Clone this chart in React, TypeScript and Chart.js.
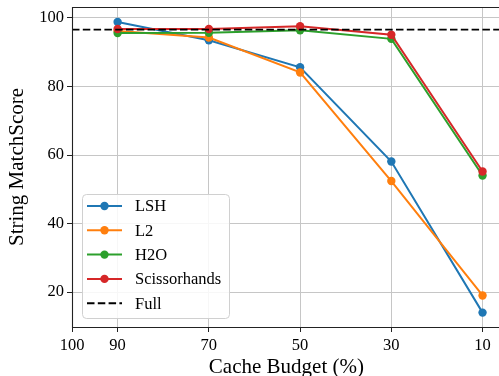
import React, { useEffect, useRef } from 'react';
import { Chart, registerables } from 'chart.js';

Chart.register(...registerables);

// Cache budget (%) per measurement, plotted right-to-left
const BUDGETS = [90, 70, 50, 30, 10];

// String match score per method
const LSH = [98.8, 93.5, 85.6, 58.1, 14.0];
const L2 = [96.2, 94.3, 84.1, 52.4, 19.0];
const H2O = [95.6, 95.7, 96.4, 93.9, 54.0];
const SCISSORHANDS = [96.8, 96.8, 97.6, 95.1, 55.2];
const FULL_SCORE = 96.6;

const SERIES_NAMES = ['LSH', 'L2', 'H2O', 'Scissorhands'];
const SERIES_VALUES = [LSH, L2, H2O, SCISSORHANDS];
const SERIES_COLORS = ['#1f77b4', '#ff7f0e', '#2ca02c', '#d62728'];

const X_TICKS = [100, 90, 70, 50, 30, 10];
const Y_TICKS = [20, 40, 60, 80, 100];
const X_LIMITS = [6, 100];
const Y_LIMITS = [9.8, 103.2];

const FONT = '"Liberation Serif", "Times New Roman", serif';
const GRID = '#c6c6c6';
const INK = '#000000';

// Axes spines (top, left, bottom), drawn above the lines
const framePlugin = {
  id: 'axesFrame',
  afterDatasetsDraw(chart: any) {
    const { ctx, chartArea: a } = chart;
    const l = Math.round(a.left) + 0.5;
    const t = Math.round(a.top) + 0.5;
    const b = Math.round(a.bottom) + 0.5;
    ctx.save();
    ctx.strokeStyle = '#222222';
    ctx.lineWidth = 1.1;
    ctx.beginPath();
    ctx.moveTo(a.right + 2, t);
    ctx.lineTo(l, t);
    ctx.lineTo(l, b);
    ctx.lineTo(a.right + 2, b);
    ctx.stroke();
    ctx.restore();
  },
};

// Boxed legend in the lower-left corner of the plot
const legendPlugin = {
  id: 'boxLegend',
  afterDraw(chart: any) {
    const { ctx, chartArea: a } = chart;
    const datasets = chart.data.datasets;
    const x0 = a.left + 10;
    const w = 147;
    const h = 124;
    const y0 = a.bottom - 9 - h;
    const rowH = 24.3;
    ctx.save();
    ctx.beginPath();
    ctx.roundRect(x0 + 0.5, y0 + 0.5, w, h, 4);
    ctx.fillStyle = 'rgba(255,255,255,0.85)';
    ctx.fill();
    ctx.strokeStyle = '#d0d0d0';
    ctx.lineWidth = 1;
    ctx.stroke();
    datasets.forEach((ds: any, i: number) => {
      const cy = y0 + 12 + i * rowH;
      const lx0 = x0 + 5;
      const lx1 = x0 + 40;
      ctx.beginPath();
      ctx.strokeStyle = ds.borderColor;
      ctx.lineWidth = 2;
      ctx.setLineDash(ds.borderDash || []);
      ctx.moveTo(lx0, cy);
      ctx.lineTo(lx1, cy);
      ctx.stroke();
      ctx.setLineDash([]);
      if (ds.pointRadius > 0) {
        ctx.beginPath();
        ctx.fillStyle = ds.borderColor;
        ctx.arc((lx0 + lx1) / 2, cy, 4.2, 0, Math.PI * 2);
        ctx.fill();
      }
      ctx.fillStyle = INK;
      ctx.font = `16.5px ${FONT}`;
      ctx.textBaseline = 'middle';
      ctx.textAlign = 'left';
      ctx.fillText(ds.label, x0 + 53, cy + 1);
    });
    ctx.restore();
  },
};

export default function App() {
  const canvasRef = useRef<HTMLCanvasElement | null>(null);

  useEffect(() => {
    const canvas = canvasRef.current;
    if (!canvas) return;

    const lineSets = SERIES_NAMES.map((name, i) => ({
      label: name,
      data: BUDGETS.map((b, j) => ({ x: b, y: SERIES_VALUES[i][j] })),
      borderColor: SERIES_COLORS[i],
      backgroundColor: SERIES_COLORS[i],
      borderWidth: 2,
      pointRadius: 4.2,
      pointBorderWidth: 0,
      pointBackgroundColor: SERIES_COLORS[i],
      tension: 0,
      order: -i,
    }));

    const fullSet = {
      label: 'Full',
      data: [
        { x: X_LIMITS[1], y: FULL_SCORE },
        { x: X_LIMITS[0], y: FULL_SCORE },
      ],
      borderColor: '#000000',
      backgroundColor: '#000000',
      borderWidth: 1.8,
      borderDash: [7.5, 3.3],
      pointRadius: 0,
      tension: 0,
      order: -SERIES_NAMES.length,
    };

    const chart = new Chart(canvas, {
      type: 'line',
      data: { datasets: [...lineSets, fullSet] as any },
      options: {
        animation: false,
        responsive: false,
        devicePixelRatio: 1,
        layout: { padding: { top: 7, left: 0, right: 1, bottom: 0 } },
        plugins: {
          legend: { display: false },
          tooltip: { enabled: false },
        },
        scales: {
          x: {
            type: 'linear',
            reverse: true,
            min: X_LIMITS[0],
            max: X_LIMITS[1],
            afterBuildTicks: (scale: any) => {
              scale.ticks = X_TICKS.map((v) => ({ value: v }));
            },
            afterFit: (scale: any) => {
              scale.height = 49;
              scale.paddingLeft = 0;
              scale.paddingRight = 0;
            },
            grid: {
              color: GRID,
              lineWidth: 1,
              drawTicks: true,
              tickLength: 5,
              tickColor: '#222222',
              tickWidth: 1,
            },
            border: { display: false },
            ticks: {
              color: INK,
              font: { family: FONT, size: 16.5 },
              padding: 4,
              maxRotation: 0,
              autoSkip: false,
              callback: (v: any) => String(v),
            },
            title: {
              display: true,
              text: 'Cache Budget (%)',
              color: INK,
              font: { family: FONT, size: 21 },
              padding: { top: 0, bottom: -4 },
            },
          },
          y: {
            type: 'linear',
            min: Y_LIMITS[0],
            max: Y_LIMITS[1],
            afterBuildTicks: (scale: any) => {
              scale.ticks = Y_TICKS.map((v) => ({ value: v }));
            },
            afterFit: (scale: any) => {
              scale.width = 72;
              scale.paddingTop = 0;
              scale.paddingBottom = 0;
            },
            grid: {
              color: GRID,
              lineWidth: 1,
              drawTicks: true,
              tickLength: 5,
              tickColor: '#222222',
              tickWidth: 1,
            },
            border: { display: false },
            ticks: {
              color: INK,
              font: { family: FONT, size: 16.5 },
              padding: 3,
              callback: (v: any) => String(v),
            },
            title: {
              display: true,
              text: 'String MatchScore',
              color: INK,
              font: { family: FONT, size: 21 },
              padding: { top: 5, bottom: 0 },
            },
          },
        },
      },
      plugins: [framePlugin, legendPlugin],
    });

    return () => chart.destroy();
  }, []);

  return (
    <div
      style={{
        position: 'fixed',
        left: 0,
        top: 0,
        width: 499,
        height: 376,
        overflow: 'hidden',
        background: '#ffffff',
      }}
    >
      <canvas ref={canvasRef} width={505} height={376} style={{ width: 505, height: 376, display: 'block' }} />
    </div>
  );
}
